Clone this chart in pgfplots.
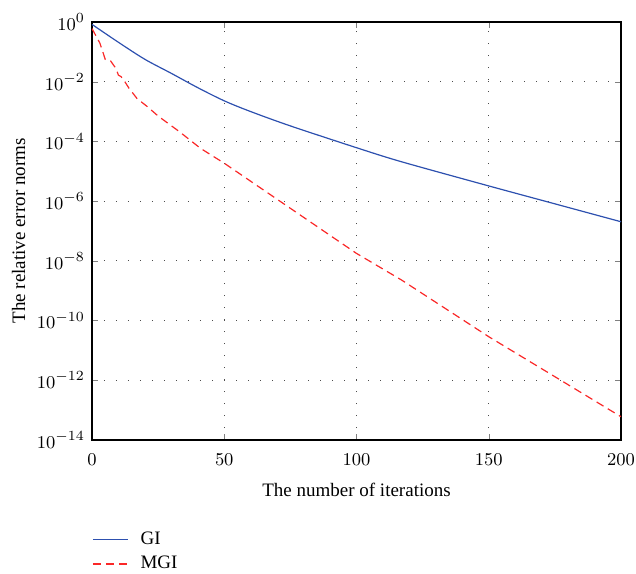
\documentclass[border=0pt]{standalone}
\usepackage{pgfplots}
\pgfplotsset{compat=1.18}
\usepackage{fontspec}
\setmainfont{Liberation Serif}
\definecolor{giblue}{RGB}{45,80,175}
\definecolor{mgired}{RGB}{250,40,40}
\begin{document}
\begin{tikzpicture}
\begin{axis}[
  name=ax,
  scale only axis,
  width=264.5pt, height=209pt,
  xmin=0, xmax=200, ymin=1e-14, ymax=1,
  ymode=log,
  xtick={0,50,100,150,200},
  ytick={1,1e-2,1e-4,1e-6,1e-8,1e-10,1e-12,1e-14},
  minor ytick={},
  yminorticks=false,
  log basis y=10,
  tick align=inside,
  tick pos=both,
  major tick length=3pt,
  axis line style={line width=0.7pt},
  grid=major,
  major grid style={black!70, line width=0.5pt, dash pattern=on 0.6pt off 5.4pt},
  tick label style={font=\fontsize{9.5}{10}\selectfont},
  xticklabel style={yshift=-3.5pt},
  label style={font=\fontsize{9.5}{10}\selectfont},
  xlabel={The number of iterations},
  ylabel={The relative error norms},
  xlabel style={yshift=-2pt},
  ylabel style={yshift=-1pt},
  legend style={draw=none, fill=none, at={(axis description cs:0,-0.218)}, anchor=north west, font=\fontsize{9.5}{10}\selectfont, row sep=4.5pt, inner sep=0pt, nodes={inner ysep=0pt, inner xsep=0pt}, /tikz/every odd column/.append style={column sep=6pt}},
  legend cell align=left,
  legend image code/.code={\draw[#1] (0pt,0pt) -- (17.5pt,0pt);},
]
\addplot[giblue, line width=0.6pt, smooth, tension=0.5] coordinates {
(0,0.8318) (10,0.2089) (20,0.05623) (30,0.01905) (40,0.006310) (50,0.002291)
(60,0.001) (75,3.311e-4) (100,6.166e-5) (117,2.089e-5) (150,3.236e-6)
(175,8.128e-7) (200,2.042e-7)
};
\addlegendentry{GI}
\addplot[mgired, line width=0.6pt, dash pattern=on 4pt off 2.5pt] coordinates {
(0,0.6026) (3,0.1950) (5,0.05623) (7,0.05012) (9,0.02818) (10,0.01660)
(11,0.01479) (12,0.01148) (14,0.006026) (17,0.002754) (21,0.001445)
(25,7.079e-4) (33,2.138e-4) (41,5.888e-5) (50,1.862e-5) (75,5.754e-7)
(100,1.778e-8) (117,2.291e-9) (150,2.884e-11) (200,6.026e-14)
};
\addlegendentry{MGI}
\end{axis}
\pgfresetboundingbox
\path ([xshift=-46pt,yshift=11pt]ax.north west) rectangle ([xshift=7.5pt,yshift=-66.5pt]ax.south east);
\end{tikzpicture}
\end{document}
